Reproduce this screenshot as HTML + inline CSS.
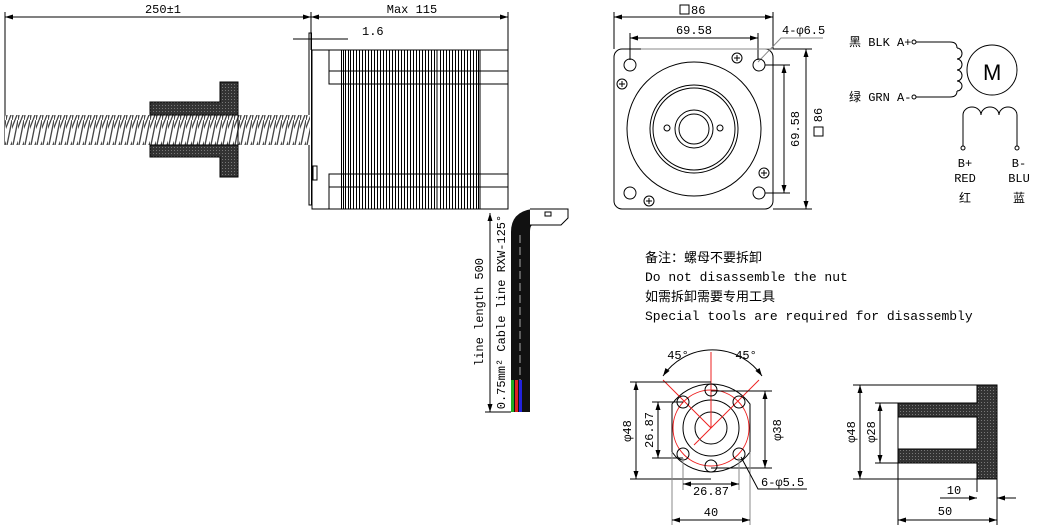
<!DOCTYPE html>
<html><head><meta charset="utf-8"><style>
html,body{margin:0;padding:0;background:#fff;}
svg{display:block;font-family:"Liberation Mono","Noto Sans CJK SC",monospace;}
</style></head><body>
<svg width="1037" height="531" viewBox="0 0 1037 531" xmlns="http://www.w3.org/2000/svg">
<defs>
<pattern id="thr" width="6" height="30" patternUnits="userSpaceOnUse">
<rect width="6" height="30" fill="#fff"/>
<path d="M0,30 L6,0 M-3,15 L3,0 M3,30 L9,15" stroke="#444" stroke-width="1.3" fill="none"/>
</pattern>
<pattern id="hat" width="3" height="3" patternUnits="userSpaceOnUse">
<rect width="3" height="3" fill="#333"/><rect width="1" height="1" fill="#777"/>
</pattern>
<marker id="a" markerWidth="8" markerHeight="6" refX="8" refY="3" orient="auto-start-reverse" markerUnits="userSpaceOnUse"><path d="M0,0.5 L8,3 L0,5.5z" fill="#000"/></marker>
</defs>
<g stroke="#000" fill="none" stroke-width="1">
<line x1="5" y1="12" x2="5" y2="145"/>
<line x1="5" y1="17" x2="311" y2="17" marker-start="url(#a)" marker-end="url(#a)"/>
<line x1="311" y1="12" x2="311" y2="50"/>
<line x1="311" y1="17" x2="508" y2="17" marker-start="url(#a)" marker-end="url(#a)"/>
<line x1="508" y1="12" x2="508" y2="50"/>
<line x1="293" y1="39" x2="348" y2="39"/>
<rect x="309" y="33" width="2.5" height="172"/>
<rect x="313" y="166" width="4" height="14"/>
<rect x="312" y="50" width="196" height="159"/>
<path d="M329,50V84H508 M329,71H508 M329,209V174H508 M329,187H508 M437,50V209 M480,50V209"/>
<g stroke-width="1" shape-rendering="crispEdges">
<path d="M341.5,50V209 M343.5,50V209 M345.5,50V209 M348.5,50V209 M350.5,50V209 M353.5,50V209 M356.5,50V209 M359.5,50V209 M362.5,50V209 M365.5,50V209 M368.5,50V209 M371.5,50V209 M374.5,50V209 M377.5,50V209 M380.5,50V209 M383.5,50V209 M386.5,50V209 M389.5,50V209 M392.5,50V209 M395.5,50V209 M398.5,50V209 M401.5,50V209 M404.5,50V209 M407.5,50V209 M410.5,50V209 M413.5,50V209 M416.5,50V209 M419.5,50V209 M422.5,50V209 M425.5,50V209 M428.5,50V209 M431.5,50V209 M434.5,50V209 M440.5,50V209 M443.5,50V209 M446.5,50V209 M449.5,50V209 M452.5,50V209 M455.5,50V209 M458.5,50V209 M461.5,50V209 M464.5,50V209 M467.5,50V209 M470.5,50V209 M473.5,50V209 M476.5,50V209 M478.5,50V209"/>
</g>
</g>
<rect x="5" y="115" width="305" height="30" fill="url(#thr)"/>
<path d="M150,102H220V82H238V177H220V157H150V145H238V115H150Z" fill="url(#hat)" stroke="#000"/>
<path d="M511,412V232Q511,212 532,209H548V225H533Q530,225 530,232V412Z" fill="#111"/>
<path d="M520,235V380" stroke="#aaa" stroke-dasharray="8 4"/>
<rect x="511" y="380" width="3" height="32" fill="#2a2"/><rect x="515" y="380" width="3" height="32" fill="#d22"/><rect x="519" y="380" width="3" height="32" fill="#22d"/><rect x="523" y="380" width="3" height="32" fill="#111"/>
<path d="M530,209H568V218L561,225H530" fill="#fff" stroke="#000"/>
<rect x="545" y="212" width="6" height="4" fill="none" stroke="#000"/>
<line x1="490" y1="213" x2="490" y2="412" stroke="#000" marker-start="url(#a)" marker-end="url(#a)"/>
<line x1="485" y1="412" x2="511" y2="412" stroke="#000"/>
<g font-size="12" fill="#000">
<text x="163" y="13" text-anchor="middle">250±1</text>
<text x="412" y="13" text-anchor="middle">Max 115</text>
<text x="362" y="35">1.6</text>
<text transform="translate(483,312) rotate(-90)" text-anchor="middle">line length 500</text>
<text transform="translate(505,312) rotate(-90)" text-anchor="middle">0.75mm² Cable line RXW-125°</text>
</g>
<g stroke="#000" fill="none">
<rect x="614" y="49" width="159" height="160" rx="8"/>
<line x1="614" y1="12" x2="614" y2="49"/><line x1="773" y1="12" x2="773" y2="49"/>
<line x1="614" y1="17" x2="773" y2="17" marker-start="url(#a)" marker-end="url(#a)"/>
<line x1="630" y1="33" x2="630" y2="60"/><line x1="758" y1="33" x2="758" y2="60"/>
<line x1="630" y1="38" x2="758" y2="38" marker-start="url(#a)" marker-end="url(#a)"/>
<path d="M758,62L781,38H823" stroke="#888"/>
<path d="M641,49H773" stroke="#888"/>
<circle cx="630" cy="65" r="6"/><circle cx="759" cy="65" r="6"/><circle cx="630" cy="193" r="6"/><circle cx="759" cy="193" r="6"/>
<circle cx="694" cy="129" r="67"/><circle cx="694" cy="129" r="44"/><circle cx="694" cy="129" r="41"/>
<circle cx="694" cy="129" r="19"/><circle cx="694" cy="129" r="15"/>
<circle cx="667" cy="128" r="3"/><circle cx="720" cy="128" r="3"/>
<g stroke-width="1"><circle cx="737" cy="58" r="5"/><path d="M734,58h6M737,55v6"/><circle cx="622" cy="84" r="5"/><path d="M619,84h6M622,81v6"/><circle cx="764" cy="173" r="5"/><path d="M761,173h6M764,170v6"/><circle cx="649" cy="201" r="5"/><path d="M646,201h6M649,198v6"/></g>
<line x1="765" y1="65" x2="790" y2="65"/><line x1="765" y1="193" x2="790" y2="193"/>
<line x1="784" y1="65" x2="784" y2="193" marker-start="url(#a)" marker-end="url(#a)"/>
<line x1="773" y1="49" x2="812" y2="49"/><line x1="773" y1="209" x2="812" y2="209"/>
<line x1="806" y1="49" x2="806" y2="209" marker-start="url(#a)" marker-end="url(#a)"/>
<rect x="680" y="5" width="9" height="9"/>
<rect x="814" y="127" width="9" height="9"/>
<circle cx="914" cy="42" r="2"/><circle cx="914" cy="97" r="2"/>
<path d="M916,42H950Q957,42 957,48 M916,97H950Q957,97 957,91"/>
<path d="M957,48a5,5.5 0 0 1 0,11a5,5.5 0 0 1 0,11a5,5.5 0 0 1 0,11a5,5 0 0 1 0,10"/>
<circle cx="992" cy="70" r="25"/>
<path d="M963,146V115a9,8 0 0 1 18,0a9,8 0 0 1 18,0a9,8 0 0 1 18,0V146"/>
<circle cx="963" cy="148" r="2"/><circle cx="1017" cy="148" r="2"/>
</g>
<g font-size="12" fill="#000">
<text x="691" y="14">86</text>
<text x="694" y="34" text-anchor="middle">69.58</text>
<text x="782" y="34">4-φ6.5</text>
<text transform="translate(799,129) rotate(-90)" text-anchor="middle">69.58</text>
<text transform="translate(822,115) rotate(-90)" text-anchor="middle">86</text>
<text x="849" y="46">黑 BLK A+</text>
<text x="849" y="101">绿 GRN A-</text>
<text x="983" y="80" font-family="Liberation Sans,sans-serif" font-size="22">M</text>
<text x="965" y="167" text-anchor="middle">B+</text><text x="965" y="182" text-anchor="middle">RED</text><text x="965" y="202" text-anchor="middle">红</text>
<text x="1019" y="167" text-anchor="middle">B-</text><text x="1019" y="182" text-anchor="middle">BLU</text><text x="1019" y="202" text-anchor="middle">蓝</text>
<g font-size="13">
<text x="645" y="262">备注：螺母不要拆卸</text>
<text x="645" y="281">Do not disassemble the nut</text>
<text x="645" y="301">如需拆卸需要专用工具</text>
<text x="645" y="320">Special tools are required for disassembly</text>
</g>
</g>
<g fill="none" stroke="#000">
<path d="M672,404A48,48 0 0 1 750,404V452A48,48 0 0 1 672,452Z"/>
<circle cx="711" cy="428" r="38" stroke="#e22"/>
<circle cx="711" cy="428" r="28"/><circle cx="711" cy="428" r="16"/>
<path d="M711,352V428 M663,380L711,428 M759,380L694,445" stroke="#e22"/>
<circle cx="711" cy="390" r="6"/><circle cx="683" cy="402" r="6"/><circle cx="739" cy="402" r="6"/><circle cx="683" cy="454" r="6"/><circle cx="739" cy="454" r="6"/><circle cx="711" cy="466" r="6"/>
<path d="M663,376A60,60 0 0 1 762,376" marker-start="url(#a)" marker-end="url(#a)"/>
<path d="M630,382H711 M630,479H711 M652,402H683 M652,458H683 M711,391H772 M711,468H772"/>
<line x1="636" y1="382" x2="636" y2="479" marker-start="url(#a)" marker-end="url(#a)"/>
<line x1="658" y1="402" x2="658" y2="458" marker-start="url(#a)" marker-end="url(#a)"/>
<line x1="765" y1="391" x2="765" y2="468" marker-start="url(#a)" marker-end="url(#a)"/>
<path d="M683,458V490 M739,458V490 M672,452V525 M750,452V525" stroke="#888"/>
<line x1="683" y1="484" x2="739" y2="484" marker-start="url(#a)" marker-end="url(#a)"/>
<line x1="672" y1="520" x2="750" y2="520" marker-start="url(#a)" marker-end="url(#a)"/>
<path d="M741,457L758,489H807"/>
</g>
<path d="M898,403H977V385H997V479H977V463H898V449H977V417H898Z" fill="url(#hat)" stroke="#000"/>
<g fill="none" stroke="#000">
<path d="M853,385H977 M853,479H977 M875,403H898 M875,463H898 M898,403V525 M997,479V525 M977,479V492" />
<line x1="860" y1="385" x2="860" y2="479" marker-start="url(#a)" marker-end="url(#a)"/>
<line x1="880" y1="403" x2="880" y2="463" marker-start="url(#a)" marker-end="url(#a)"/>
<path d="M940,498H977 M997,498H1016"/>
<line x1="960" y1="498" x2="977" y2="498" marker-end="url(#a)"/>
<line x1="1014" y1="498" x2="997" y2="498" marker-end="url(#a)"/>
<line x1="898" y1="520" x2="997" y2="520" marker-start="url(#a)" marker-end="url(#a)"/>
</g>
<g font-size="12" fill="#000">
<text x="678" y="359" text-anchor="middle">45°</text>
<text x="746" y="359" text-anchor="middle">45°</text>
<text transform="translate(631,431) rotate(-90)" text-anchor="middle">φ48</text>
<text transform="translate(653,430) rotate(-90)" text-anchor="middle">26.87</text>
<text transform="translate(781,430) rotate(-90)" text-anchor="middle">φ38</text>
<text x="711" y="495" text-anchor="middle">26.87</text>
<text x="711" y="516" text-anchor="middle">40</text>
<text x="761" y="486">6-φ5.5</text>
<text transform="translate(855,432) rotate(-90)" text-anchor="middle">φ48</text>
<text transform="translate(875,432) rotate(-90)" text-anchor="middle">φ28</text>
<text x="954" y="494" text-anchor="middle">10</text>
<text x="945" y="515" text-anchor="middle">50</text>
</g>
</svg>
</body></html>
